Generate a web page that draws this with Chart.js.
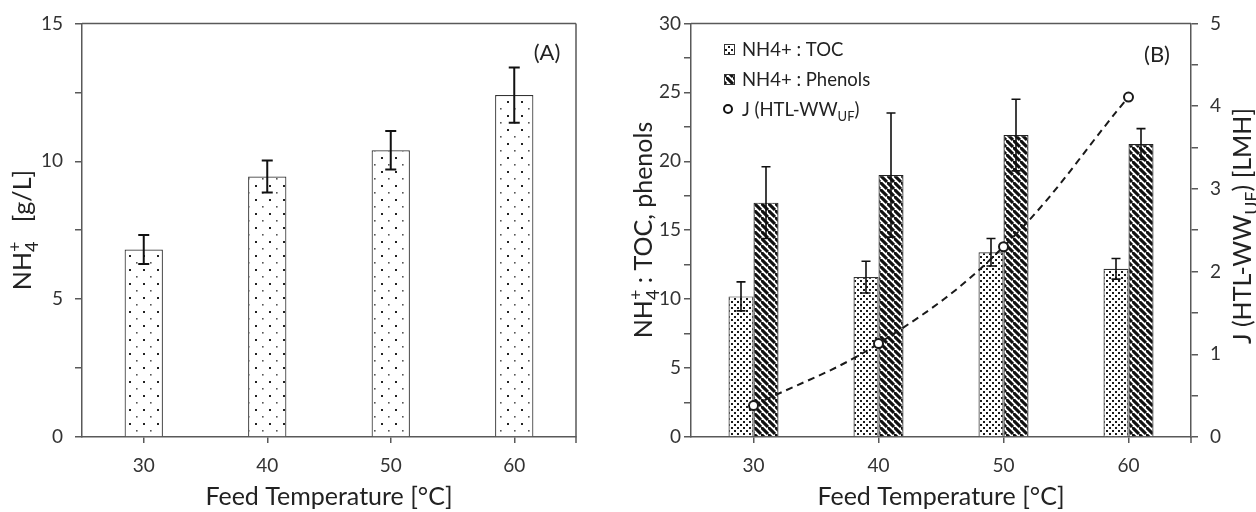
<!DOCTYPE html>
<html>
<head>
<meta charset="utf-8">
<script src="https://cdn.jsdelivr.net/npm/chart.js@4.4.1/dist/chart.umd.min.js"></script>
<style>
  html, body { margin: 0; padding: 0; background: #fff; }
  #wrap { position: relative; width: 1256px; height: 512px; }
  canvas { position: absolute; top: 0; }
  #chartA { left: 0; }
  #chartB { left: 628px; }
</style>
</head>
<body>
<div id="wrap">
  <canvas id="chartA" width="628" height="512"></canvas>
  <canvas id="chartB" width="628" height="512"></canvas>
</div>
<script>
const temps = ['30', '40', '50', '60'];

// panel A: NH4+ concentration [g/L]
const nh4 = [6.8, 9.45, 10.4, 12.4];
const nh4Err = [0.53, 0.58, 0.7, 1.0];

// panel B: ratios and flux
const ratioToc = [10.2, 11.6, 13.4, 12.2];
const ratioTocErr = [1.05, 1.15, 1.0, 0.75];
const ratioPhenols = [17.0, 19.0, 21.9, 21.25];
const ratioPhenolsErr = [2.6, 4.5, 2.6, 1.12];
const fluxJ = [0.38, 1.13, 2.3, 4.11];

const FONT = 'Lato, "Open Sans", sans-serif';
const INK = '#333';
const AXIS = '#595959';

function makePattern(w, h, draw) {
  const c = document.createElement('canvas');
  c.width = w; c.height = h;
  const g = c.getContext('2d');
  g.fillStyle = '#fff';
  g.fillRect(0, 0, w, h);
  draw(g);
  return g.createPattern(c, 'repeat');
}

const sparseDots = makePattern(14, 14, g => {
  g.fillStyle = '#222';
  g.fillRect(3, 3, 2, 2);
  g.fillStyle = '#555';
  g.fillRect(10, 10, 1.6, 1.6);
});
const denseDots = makePattern(6, 6, g => {
  g.fillStyle = '#1a1a1a';
  g.fillRect(1, 1, 2, 2);
  g.fillRect(4, 4, 2, 2);
});
const hatch = makePattern(7, 7, g => {
  g.strokeStyle = '#111';
  g.lineWidth = 3.1;
  g.beginPath();
  g.moveTo(-7, 0); g.lineTo(0, 7);
  g.moveTo(-1, -1); g.lineTo(8, 8);
  g.moveTo(0, -7); g.lineTo(7, 0);
  g.stroke();
});

// text with sub/superscripts, centred (or left aligned) at x,y
function drawRich(ctx, parts, x, y, size, rot, align) {
  ctx.save();
  ctx.translate(x, y);
  ctx.rotate(rot || 0);
  ctx.fillStyle = '#222';
  ctx.textBaseline = 'alphabetic';
  const small = Math.round(size * 0.7);
  const items = parts.map(p => {
    const fs = (p.sub || p.sup) ? small : size;
    ctx.font = fs + 'px ' + FONT;
    return { p, fs, w: ctx.measureText(p.t).width };
  });
  let total = 0;
  items.forEach(it => { if (!it.p.stack) total += it.w; });
  let cx = align === 'left' ? 0 : -total / 2;
  const base = size * 0.36;
  items.forEach(it => {
    ctx.font = it.fs + 'px ' + FONT;
    const dy = it.p.sub ? size * 0.28 : it.p.sup ? -size * 0.42 : 0;
    ctx.fillText(it.p.t, cx, base + dy);
    if (!it.p.stack) cx += it.w;
  });
  ctx.restore();
}

const errorBars = {
  id: 'errorBars',
  afterDatasetDraw(chart, args) {
    const ds = chart.data.datasets[args.index];
    if (!ds.errors) return;
    const ctx = chart.ctx;
    const ys = chart.scales[ds.yAxisID || 'y'];
    ctx.save();
    ctx.strokeStyle = '#111';
    ctx.lineWidth = ds.errWidth;
    args.meta.data.forEach((bar, i) => {
      const v = ds.data[i], e = ds.errors[i];
      const top = ys.getPixelForValue(v + e);
      const bot = ys.getPixelForValue(v - e);
      const c = ds.capHalf;
      ctx.beginPath();
      ctx.moveTo(bar.x, top); ctx.lineTo(bar.x, bot);
      ctx.moveTo(bar.x - c, top); ctx.lineTo(bar.x + c, top);
      ctx.moveTo(bar.x - c, bot); ctx.lineTo(bar.x + c, bot);
      ctx.stroke();
    });
    ctx.restore();
  }
};

function frame(chart, closeRight) {
  const { ctx, chartArea: a } = chart;
  ctx.save();
  ctx.strokeStyle = AXIS;
  ctx.lineWidth = 1.5;
  ctx.beginPath();
  ctx.moveTo(a.left, a.top); ctx.lineTo(a.right, a.top);
  if (closeRight) { ctx.moveTo(a.right, a.top); ctx.lineTo(a.right, a.bottom); }
  ctx.moveTo(a.right, a.bottom); ctx.lineTo(a.right, a.bottom + 6);
  ctx.stroke();
  ctx.restore();
}

const frameA = {
  id: 'frameA',
  afterDraw(chart) {
    frame(chart, true);
    const ctx = chart.ctx;
    ctx.save();
    ctx.fillStyle = '#222';
    ctx.font = '22px ' + FONT;
    ctx.textAlign = 'center';
    ctx.textBaseline = 'middle';
    ctx.fillText('(A)', 547, 53);
    ctx.restore();
    drawRich(ctx, [{ t: 'NH' }, { t: '4', sub: true, stack: true }, { t: '+', sup: true }, { t: '   [g/L]' }],
      22, 230, 25, -Math.PI / 2);
  }
};

const frameB = {
  id: 'frameB',
  afterDraw(chart) {
    frame(chart, false);
    const ctx = chart.ctx;
    ctx.save();
    ctx.fillStyle = '#222';
    ctx.font = '22px ' + FONT;
    ctx.textAlign = 'center';
    ctx.textBaseline = 'middle';
    ctx.fillText('(B)', 529, 55);

    // legend
    ctx.strokeStyle = '#333';
    ctx.lineWidth = 1;
    ctx.fillStyle = denseDots;
    ctx.fillRect(96, 44, 10, 10);
    ctx.strokeRect(96.5, 44.5, 10, 10);
    ctx.fillStyle = hatch;
    ctx.fillRect(96, 74, 10, 10);
    ctx.strokeRect(96.5, 74.5, 10, 10);
    ctx.beginPath();
    ctx.arc(100, 109, 4, 0, Math.PI * 2);
    ctx.lineWidth = 2;
    ctx.strokeStyle = '#111';
    ctx.stroke();
    ctx.restore();

    drawRich(ctx, [{ t: 'NH4+ : TOC' }], 114, 49, 18.5, 0, 'left');
    drawRich(ctx, [{ t: 'NH4+ : Phenols' }], 114, 79, 18.5, 0, 'left');
    drawRich(ctx, [{ t: 'J (HTL-WW' }, { t: 'UF', sub: true }, { t: ')' }], 114, 109, 18.5, 0, 'left');

    drawRich(ctx, [{ t: 'NH' }, { t: '4', sub: true, stack: true }, { t: '+', sup: true }, { t: ' : TOC, phenols' }],
      15, 230, 25, -Math.PI / 2);
    drawRich(ctx, [{ t: 'J (HTL-WW' }, { t: 'UF', sub: true }, { t: ') [LMH]' }],
      614, 226, 25, -Math.PI / 2);
  }
};

const tickFont = { family: FONT, size: 19 };
const gridStyle = { drawOnChartArea: false, tickLength: 7, color: AXIS, lineWidth: 1.5 };
const borderStyle = { color: AXIS, width: 1.5 };
const xAxis = {
  grid: { offset: false, drawOnChartArea: false, tickLength: 6, color: AXIS, lineWidth: 1.5 },
  border: borderStyle,
  ticks: { font: tickFont, color: INK, padding: 11 },
  title: { display: true, text: 'Feed Temperature [°C]', font: { family: FONT, size: 25 }, color: '#222', padding: { top: 0, bottom: 0 } },
  afterFit: s => { s.height = 75; }
};

new Chart(document.getElementById('chartA'), {
  type: 'bar',
  data: {
    labels: temps,
    datasets: [{
      data: nh4, errors: nh4Err, errWidth: 2, capHalf: 5.5,
      backgroundColor: sparseDots, borderColor: '#333', borderWidth: 1.2,
      barPercentage: 1, categoryPercentage: 0.31,
    }],
  },
  options: {
    responsive: false, animation: false, events: [],
    layout: { padding: { top: 22, right: 52, left: 0, bottom: 0 } },
    plugins: { legend: { display: false }, tooltip: { enabled: false } },
    scales: {
      x: xAxis,
      y: {
        min: 0, max: 15,
        ticks: { stepSize: 2.5, callback: v => (v % 5 === 0 ? v : ''), font: tickFont, color: INK, padding: 12 },
        grid: gridStyle, border: borderStyle,
        afterFit: s => { s.width = 82; }
      },
    },
  },
  plugins: [errorBars, frameA],
});

new Chart(document.getElementById('chartB'), {
  type: 'bar',
  data: {
    labels: temps,
    datasets: [
      {
        type: 'line', label: 'J (HTL-WW UF)', data: fluxJ, yAxisID: 'y1', order: 0,
        borderColor: '#1a1a1a', borderWidth: 2, borderDash: [7, 5], tension: 0.4,
        pointRadius: 4.5, pointBorderWidth: 2, pointBackgroundColor: '#fff', pointBorderColor: '#1a1a1a',
      },
      {
        label: 'NH4+ : TOC', data: ratioToc, errors: ratioTocErr, errWidth: 1.6, capHalf: 4.5, order: 1,
        backgroundColor: denseDots, borderColor: '#333', borderWidth: 1.2,
        barPercentage: 1, categoryPercentage: 0.4,
      },
      {
        label: 'NH4+ : Phenols', data: ratioPhenols, errors: ratioPhenolsErr, errWidth: 1.6, capHalf: 4.5, order: 1,
        backgroundColor: hatch, borderColor: '#222', borderWidth: 1.2,
        barPercentage: 1, categoryPercentage: 0.4,
      },
    ],
  },
  options: {
    responsive: false, animation: false, events: [],
    layout: { padding: { top: 23, right: 0, left: 0, bottom: 0 } },
    plugins: { legend: { display: false }, tooltip: { enabled: false } },
    scales: {
      x: xAxis,
      y: {
        min: 0, max: 30,
        ticks: { stepSize: 2.5, callback: v => (v % 5 === 0 ? v : ''), font: tickFont, color: INK, padding: 3 },
        grid: gridStyle, border: borderStyle,
        afterFit: s => { s.width = 63; }
      },
      y1: {
        position: 'right', min: 0, max: 5,
        ticks: { stepSize: 0.5, callback: v => (Number.isInteger(v) ? v : ''), font: tickFont, color: INK, padding: 12 },
        grid: gridStyle, border: borderStyle,
        afterFit: s => { s.width = 65; }
      },
    },
  },
  plugins: [errorBars, frameB],
});
</script>
</body>
</html>
